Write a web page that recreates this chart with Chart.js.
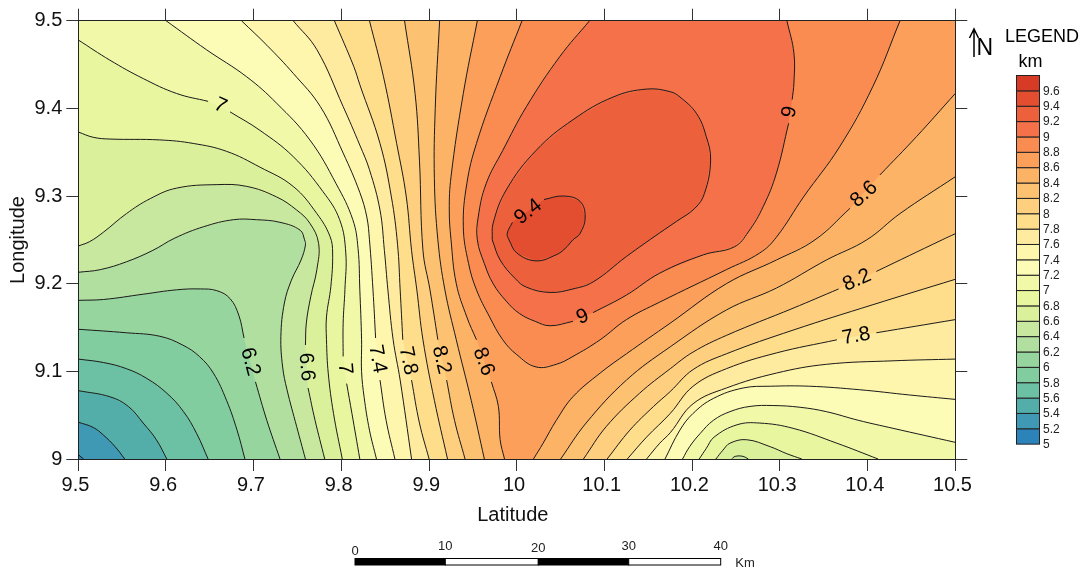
<!DOCTYPE html>
<html>
<head>
<meta charset="utf-8">
<style>html,body{margin:0;padding:0;background:#fff}canvas{display:block}</style>
<script src="https://cdn.jsdelivr.net/npm/chart.js@4/dist/chart.umd.min.js"></script>
</head>
<body>
<canvas id="chart-contour" width="1082" height="571"></canvas>
<script>
// tick labels
const xTicks = [9.5, 9.6, 9.7, 9.8, 9.9, 10, 10.1, 10.2, 10.3, 10.4, 10.5];
const yTicks = [9, 9.1, 9.2, 9.3, 9.4, 9.5];

// legend classes, bottom to top, with the colour of each band
const legendLevels = [5, 5.2, 5.4, 5.6, 5.8, 6, 6.2, 6.4, 6.6, 6.8, 7, 7.2, 7.4, 7.6, 7.8, 8, 8.2, 8.4, 8.6, 8.8, 9, 9.2, 9.4, 9.6];
const bandColors = ['#2b83ba', '#3f99b4', '#53aea9', '#6cc1a5', '#82cda0', '#97d59f', '#b0dfa0', '#c8e8a0',
    '#daf09b', '#e8f6a0', '#f1f9a9', '#fcfcb6', '#fff6ae', '#feeba0', '#fede8b', '#fdcf7f',
    '#fdc172', '#fdb366', '#fc9f5b', '#fa8b51', '#f4714a', '#ec603c', '#e34e31', '#d73b26'];

// contour lines as [lon, lat]; null = gap for a label
const c52 = [[9.5, 9.005], [9.506, 9]];
const c54 = [[9.5, 9.042], [9.517, 9.036], [9.529, 9.027], [9.542, 9.014], [9.553, 9]];
const c56 = [[9.5, 9.078], [9.536, 9.071], [9.557, 9.06], [9.574, 9.041], [9.589, 9.022], [9.601, 9]];
const c58 = [[9.5, 9.114], [9.529, 9.11], [9.555, 9.103], [9.578, 9.092], [9.601, 9.075], [9.62, 9.054], [9.635, 9.029], [9.648, 9]];
const c60 = [[9.5, 9.148], [9.555, 9.144], [9.593, 9.14], [9.619, 9.13], [9.638, 9.117], [9.654, 9.098], [9.669, 9.067], [9.681, 9.033], [9.69, 9]];
const c62 = [[9.5, 9.181], [9.529, 9.182], [9.574, 9.188], [9.612, 9.193], [9.639, 9.194], [9.658, 9.192], [9.673, 9.183], [9.683, 9.164], [9.689, 9.138], null,
    [9.702, 9.088], [9.715, 9.044], [9.73, 9]];
const c64 = [[9.5, 9.213], [9.525, 9.216], [9.555, 9.225], [9.585, 9.238], [9.61, 9.252], [9.643, 9.265], [9.677, 9.273], [9.703, 9.273], [9.73, 9.27], [9.753, 9.261], [9.758, 9.25],
    [9.759, 9.244], [9.754, 9.227], [9.743, 9.204], [9.735, 9.178], [9.731, 9.14], [9.733, 9.105], [9.738, 9.079], [9.749, 9.037], [9.759, 9]];
const c66 = [[9.5, 9.243], [9.513, 9.248], [9.529, 9.259], [9.555, 9.28], [9.582, 9.297], [9.612, 9.309], [9.658, 9.313], [9.692, 9.311], [9.726, 9.299], [9.749, 9.284], [9.764, 9.269], [9.774, 9.246],
    [9.772, 9.216], [9.765, 9.185], [9.76, 9.155], [9.759, 9.13], null, [9.762, 9.081], [9.77, 9.044], [9.781, 9]];
const c66b = [[10.245, 9], [10.249, 9.003], [10.258, 9.003], [10.264, 9]];
const c68 = [[9.5, 9.373], [9.517, 9.367], [9.536, 9.365], [9.593, 9.364], [9.631, 9.36], [9.669, 9.351], [9.707, 9.333], [9.745, 9.311], [9.772, 9.28], [9.787, 9.254],
    [9.79, 9.235], [9.788, 9.197], [9.783, 9.162], [9.783, 9.136], [9.785, 9.098], [9.791, 9.052], [9.801, 9]];
const c68b = [[10.227, 9], [10.235, 9.01], [10.243, 9.018], [10.262, 9.022], [10.289, 9.014], [10.308, 9.006], [10.325, 9]];
const c70 = [[9.5, 9.478], [9.536, 9.455], [9.574, 9.434], [9.612, 9.417], [9.648, 9.408], null, [9.673, 9.396], [9.707, 9.375], [9.745, 9.345], [9.779, 9.305], [9.798, 9.273],
    [9.805, 9.235], [9.804, 9.193], [9.802, 9.155], [9.802, 9.117], null, [9.806, 9.086], [9.812, 9.052], [9.821, 9]];
const c70b = [[10.208, 9], [10.216, 9.012], [10.225, 9.025], [10.251, 9.039], [10.277, 9.041], [10.315, 9.035], [10.365, 9.018], [10.412, 9]];
const c72 = [[9.6, 9.5], [9.646, 9.467], [9.692, 9.436], [9.726, 9.406], [9.764, 9.364], [9.794, 9.314], [9.813, 9.273], [9.819, 9.24], [9.821, 9.193], [9.823, 9.136], [9.823, 9.1], [9.826, 9.07], [9.832, 9.033], [9.84, 9]];
const c72b = [[10.189, 9], [10.197, 9.014], [10.209, 9.029], [10.224, 9.044], [10.243, 9.054], [10.266, 9.06], [10.292, 9.061], [10.323, 9.059], [10.353, 9.054], [10.39, 9.044], [10.429, 9.035], [10.5, 9.019]];
const c74 = [[9.686, 9.5], [9.715, 9.472], [9.745, 9.44], [9.776, 9.402], [9.802, 9.349], [9.821, 9.304], [9.829, 9.276], [9.832, 9.25], [9.836, 9.193], [9.839, 9.138], null, [9.844, 9.09], [9.851, 9.044], [9.861, 9]];
const c74b = [[10.169, 9], [10.186, 9.033], [10.201, 9.052], [10.224, 9.069], [10.258, 9.081], [10.289, 9.083], [10.334, 9.083], [10.391, 9.079], [10.448, 9.073], [10.5, 9.068]];
const c76 = [[9.745, 9.5], [9.772, 9.467], [9.802, 9.402], [9.821, 9.358], [9.832, 9.33], [9.844, 9.284], [9.849, 9.238], [9.853, 9.193], [9.859, 9.136], [9.867, 9.09], [9.88, 9]];
const c76b = [[10.148, 9], [10.163, 9.018], [10.175, 9.03], [10.201, 9.063], [10.239, 9.081], [10.296, 9.098], [10.353, 9.108], [10.429, 9.112], [10.5, 9.114]];
const c78 = [[9.792, 9.5], [9.814, 9.448], [9.821, 9.427], [9.844, 9.36], [9.857, 9.299], [9.864, 9.245], [9.867, 9.193], [9.87, 9.136], null, [9.88, 9.09], [9.889, 9.041], [9.9, 9]];
const c78b = [[10.126, 9], [10.148, 9.025], [10.175, 9.052], [10.201, 9.083], [10.239, 9.103], [10.296, 9.121], [10.365, 9.136], null, [10.41, 9.144], [10.5, 9.159]];
const c80 = [[9.832, 9.5], [9.848, 9.436], [9.863, 9.36], [9.874, 9.299], [9.88, 9.238], [9.886, 9.193], [9.893, 9.136], [9.906, 9.067], [9.921, 9]];
const c80b = [[10.103, 9], [10.129, 9.033], [10.156, 9.06], [10.175, 9.077], [10.201, 9.102], [10.239, 9.12], [10.315, 9.147], [10.406, 9.176], [10.5, 9.205]];
const c82 = [[9.872, 9.5], [9.884, 9.417], [9.889, 9.341], [9.893, 9.238], [9.901, 9.193], [9.91, 9.136], null, [9.92, 9.09], [9.929, 9.044], [9.941, 9]];
const c82b = [[10.076, 9], [10.102, 9.037], [10.14, 9.075], [10.175, 9.103], [10.201, 9.122], [10.239, 9.141], [10.315, 9.172], [10.367, 9.194], null, [10.41, 9.214], [10.485, 9.25], [10.5, 9.257]];
const c84 = [[9.912, 9.5], [9.907, 9.4], [9.906, 9.32], [9.91, 9.25], [9.918, 9.193], [9.931, 9.136], [9.948, 9.067], [9.963, 9]];
const c84b = [[10.05, 9], [10.079, 9.041], [10.125, 9.09], [10.175, 9.128], [10.239, 9.17], [10.296, 9.195], [10.353, 9.227], [10.399, 9.25], [10.437, 9.28], [10.5, 9.322]];
const c86 = [[9.955, 9.5], [9.939, 9.417], [9.925, 9.322], [9.923, 9.284], [9.925, 9.25], [9.931, 9.2], [9.943, 9.162], [9.954, 9.136], null, [9.971, 9.088], [9.979, 9.06], [9.981, 9.022], [9.986, 9]];
const c86b = [[10.019, 9], [10.03, 9.018], [10.045, 9.044], [10.064, 9.071], [10.095, 9.098], [10.125, 9.12], [10.175, 9.155], [10.239, 9.2], [10.296, 9.227], [10.34, 9.25], [10.38, 9.286], null,
    [10.414, 9.324], [10.456, 9.368], [10.5, 9.417]];
const c88 = [[10.006, 9.5], [9.981, 9.436], [9.954, 9.36], [9.943, 9.314], [9.939, 9.265], [9.945, 9.223], [9.954, 9.193], [9.969, 9.162], [9.984, 9.136], [10, 9.119], [10.022, 9.105], [10.045, 9.108], [10.064, 9.117],
    [10.095, 9.136], [10.125, 9.159], [10.163, 9.179], [10.239, 9.216], [10.277, 9.235], [10.296, 9.253], [10.327, 9.299], [10.368, 9.356], [10.406, 9.425], [10.437, 9.5]];
const c90 = [[10.083, 9.5], [10.049, 9.459], [10.011, 9.402], [9.984, 9.352], [9.965, 9.314], [9.956, 9.276], [9.955, 9.25], [9.963, 9.223], [9.973, 9.2], [9.988, 9.18], [10.003, 9.166], [10.021, 9.157], [10.038, 9.152], [10.064, 9.157], null,
    [10.087, 9.167], [10.125, 9.187], [10.163, 9.212], [10.213, 9.233], [10.248, 9.242], [10.264, 9.259], [10.281, 9.288], [10.296, 9.326], [10.31, 9.383], null, [10.314, 9.41], [10.316, 9.429], [10.316, 9.463], [10.308, 9.5]];
const c92 = [[9.972, 9.25], [9.973, 9.269], [9.988, 9.307], [10.022, 9.352], [10.064, 9.387], [10.11, 9.413], [10.148, 9.422], [10.175, 9.419], [10.186, 9.413], [10.205, 9.394], [10.216, 9.368], [10.221, 9.341], [10.214, 9.303],
    [10.203, 9.286], [10.182, 9.271], [10.163, 9.258], [10.125, 9.231], [10.087, 9.202], [10.064, 9.194], [10.038, 9.19], [10.011, 9.196], [9.998, 9.206], [9.981, 9.227], [9.972, 9.25]];
const c94 = [[9.991, 9.25], [9.989, 9.257], [9.995, 9.27], null, [10.031, 9.296], [10.053, 9.3], [10.072, 9.294], [10.078, 9.276], [10.072, 9.257], [10.064, 9.25], [10.055, 9.24], [10.045, 9.233], [10.022, 9.226], [10, 9.235], [9.991, 9.25]];

// corners of the map used to close the filled regions
const wholeMap = [[9.5, 9], [10.5, 9], [10.5, 9.5], [9.5, 9.5]];
const cornersBR = [[10.5, 9], [10.5, 9.5], [9.5, 9.5]];
const cornerTR = [[10.5, 9.5]];

// one filled area per band, from the lowest up: everything above that level
const fillRegions = [
    wholeMap,
    [...c52, ...cornersBR],
    [...c54, ...cornersBR],
    [...c56, ...cornersBR],
    [...c58, ...cornersBR],
    [...c60, ...cornersBR],
    [...c62, ...cornersBR],
    [...c64, ...cornersBR],
    [...c66, ...c66b, ...cornersBR],
    [...c68, ...c68b, ...cornersBR],
    [...c70, ...c70b, ...cornersBR],
    [...c72, ...c72b, ...cornerTR],
    [...c74, ...c74b, ...cornerTR],
    [...c76, ...c76b, ...cornerTR],
    [...c78, ...c78b, ...cornerTR],
    [...c80, ...c80b, ...cornerTR],
    [...c82, ...c82b, ...cornerTR],
    [...c84, ...c84b, ...cornerTR],
    [...c86, ...c86b, ...cornerTR],
    c88, c90, c92, c94
];
const contourLines = [c52, c54, c56, c58, c60, c62, c64, c66, c66b, c68, c68b, c70, c70b, c72, c72b, c74, c74b, c76, c76b,
    c78, c78b, c80, c80b, c82, c82b, c84, c84b, c86, c86b, c88, c90, c92, c94];

// contour labels
const labelText = ['7', '6.2', '6.6', '7', '7.4', '7.8', '8.2', '8.6', '9', '9.4', '9', '8.6', '8.2', '7.8'];
const labelX = [9.662, 9.696, 9.76, 9.804, 9.841, 9.876, 9.914, 9.962, 10.075, 10.013, 10.311, 10.396, 10.388, 10.387];
const labelY = [9.403, 9.111, 9.105, 9.103, 9.114, 9.112, 9.113, 9.111, 9.162, 9.282, 9.396, 9.302, 9.204, 9.14];
const labelAngle = [25, 75, 85, 85, 80, 78, 76, 70, -22, -38, -80, -42, -24, -10];

// scale bar
const barTicks = ['0', '10', '20', '30', '40'];

const FONT = '"Liberation Sans", Arial, sans-serif';

function toPoints(list) {
    return list.map(p => p ? { x: p[0], y: p[1] } : { x: null, y: null });
}

const datasets = [];
fillRegions.forEach((region, i) => {
    datasets.push({
        data: toPoints(region.filter(Boolean)),
        showLine: true,
        fill: 'shape',
        backgroundColor: bandColors[i],
        borderWidth: 0,
        pointRadius: 0,
        order: 100 - i
    });
});
contourLines.forEach(line => {
    datasets.push({
        data: toPoints(line),
        showLine: true,
        fill: false,
        borderColor: '#1a1a1a',
        borderWidth: 1,
        tension: 0.4,
        pointRadius: 0,
        order: 0
    });
});

// 等值線標籤、圖例、比例尺
const mapDecor = {
    id: 'mapDecor',
    afterDatasetsDraw(chart) {
        const ctx = chart.ctx;
        const xs = chart.scales.x, ys = chart.scales.y;
        ctx.save();
        ctx.fillStyle = '#000';
        ctx.textAlign = 'center';
        ctx.textBaseline = 'middle';
        ctx.font = '20.5px ' + FONT;
        labelText.forEach((t, i) => {
            ctx.save();
            ctx.translate(xs.getPixelForValue(labelX[i]), ys.getPixelForValue(labelY[i]));
            ctx.rotate(labelAngle[i] * Math.PI / 180);
            ctx.fillText(t, 0, 0);
            ctx.restore();
        });
        ctx.restore();
    },
    afterDraw(chart) {
        const ctx = chart.ctx;
        ctx.save();
        ctx.textBaseline = 'middle';
        ctx.fillStyle = '#111';

        // axis titles
        ctx.textAlign = 'center';
        ctx.font = '20px ' + FONT;
        ctx.fillText('Latitude', 512.8, 515);
        ctx.save();
        ctx.translate(18, 240);
        ctx.rotate(-Math.PI / 2);
        ctx.fillText('Longitude', 0, 0);
        ctx.restore();

        // north arrow
        ctx.fillStyle = '#000';
        ctx.strokeStyle = '#000';
        ctx.lineWidth = 1.5;
        ctx.beginPath();
        ctx.moveTo(974, 57); ctx.lineTo(974, 30);
        ctx.moveTo(969.5, 38); ctx.lineTo(974, 29); ctx.lineTo(978.5, 38);
        ctx.stroke();
        ctx.font = '23px ' + FONT;
        ctx.textAlign = 'left';
        ctx.fillText('N', 976.5, 48.5);

        // legend
        ctx.textAlign = 'center';
        ctx.font = '18px ' + FONT;
        ctx.fillText('LEGEND', 1042, 37);
        ctx.fillText('km', 1030.5, 62);
        const boxX = 1016.5, boxW = 23, boxTop = 75.5, boxH = 15.36;
        const n = legendLevels.length;
        ctx.strokeStyle = '#222';
        ctx.lineWidth = 1;
        ctx.font = '12px ' + FONT;
        ctx.textAlign = 'left';
        for (let i = 0; i < n; i++) {
            const y = boxTop + (n - 1 - i) * boxH;
            ctx.fillStyle = bandColors[i];
            ctx.fillRect(boxX, y, boxW, boxH);
            ctx.strokeRect(boxX, y, boxW, boxH);
            ctx.fillStyle = '#222';
            ctx.fillText(String(legendLevels[i]), 1043, y + boxH + 0.5);
        }

        // scale bar
        const bx = [355, 445.3, 538.3, 628.7, 720.7];
        const by = [551, 546, 548, 546, 546];
        ctx.strokeStyle = '#000';
        for (let i = 0; i < 4; i++) {
            ctx.fillStyle = i % 2 ? '#fff' : '#000';
            ctx.fillRect(bx[i], 558.5, bx[i + 1] - bx[i], 6.5);
            ctx.strokeRect(bx[i], 558.5, bx[i + 1] - bx[i], 6.5);
        }
        ctx.fillStyle = '#222';
        ctx.font = '13px ' + FONT;
        ctx.textAlign = 'center';
        barTicks.forEach((t, i) => ctx.fillText(t, bx[i], by[i]));
        ctx.fillText('Km', 745, 563);
        ctx.restore();
    }
};

function fixedTicks(list) {
    return scale => { scale.ticks = list.map(v => ({ value: v })); };
}

const tickGrid = { drawOnChartArea: false, tickLength: 12, tickColor: '#333', tickWidth: 1 };
const axisBorder = { display: true, color: '#222', width: 1, z: 2 };

new Chart(document.getElementById('chart-contour').getContext('2d'), {
    type: 'scatter',
    data: { datasets },
    options: {
        responsive: false,
        animation: false,
        events: [],
        layout: { padding: 0 },
        plugins: { legend: { display: false }, tooltip: { enabled: false } },
        scales: {
            x: {
                type: 'linear', position: 'bottom', min: 9.5, max: 10.5,
                afterBuildTicks: fixedTicks(xTicks),
                afterFit: s => { s.height = 112; },
                grid: tickGrid, border: axisBorder,
                // trailing space: the labels sit a little left of their ticks in the original
                ticks: { color: '#111', font: { family: FONT, size: 20 }, padding: 2, maxRotation: 0, autoSkip: false, callback: v => String(v) + ' ' }
            },
            y: {
                type: 'linear', position: 'left', min: 9, max: 9.5,
                afterBuildTicks: fixedTicks(yTicks),
                afterFit: s => { s.width = 78.3; },
                grid: tickGrid, border: axisBorder,
                ticks: { color: '#111', font: { family: FONT, size: 20 }, padding: 4, autoSkip: false, callback: v => String(v) }
            },
            x2: {
                type: 'linear', position: 'top', min: 9.5, max: 10.5,
                afterBuildTicks: fixedTicks(xTicks),
                afterFit: s => { s.height = 20.7; },
                grid: tickGrid, border: axisBorder,
                ticks: { display: false }
            },
            y2: {
                type: 'linear', position: 'right', min: 9, max: 9.5,
                afterBuildTicks: fixedTicks(yTicks),
                afterFit: s => { s.width = 126.7; },
                grid: tickGrid, border: axisBorder,
                ticks: { display: false }
            }
        }
    },
    plugins: [mapDecor]
});
</script>
</body>
</html>
